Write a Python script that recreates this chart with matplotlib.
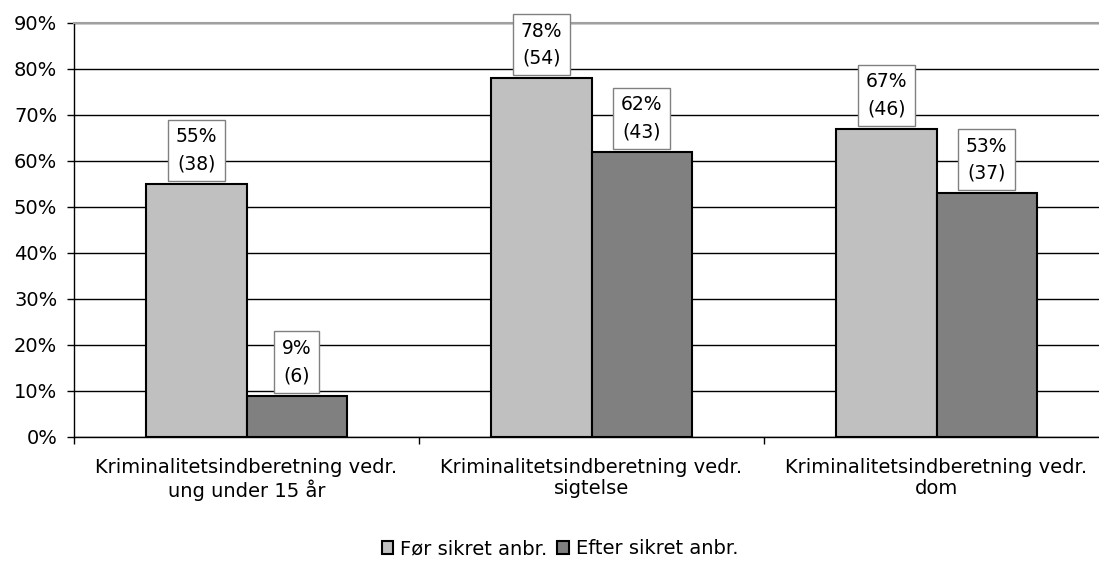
import matplotlib
matplotlib.use("Agg")
import matplotlib.pyplot as plt
import numpy as np

categories = ["Kriminalitetsindberetning vedr.\nung under 15 år",
              "Kriminalitetsindberetning vedr.\nsigtelse",
              "Kriminalitetsindberetning vedr.\ndom"]
series_names = ["Før sikret anbr.", "Efter sikret anbr."]
pct_before = [55, 78, 67]
pct_after = [9, 62, 53]
n_before = [38, 54, 46]
n_after = [6, 43, 37]
colors = ["#c0c0c0", "#808080"]
yticks = [0, 10, 20, 30, 40, 50, 60, 70, 80, 90]

plt.rcParams['font.family'] = ['DejaVu Sans']
fig = plt.figure(figsize=(10.99, 5.61), dpi=100)
W, H = 1099, 561
ax = fig.add_axes([74 / W, 1 - 437 / H, 1035 / W, (437 - 23) / H])

x = np.arange(len(categories))
bw = 0.29
for i, (vals, ns) in enumerate([(pct_before, n_before), (pct_after, n_after)]):
    off = (i - 0.5) * bw
    bars = ax.bar(x + off, vals, width=bw, color=colors[i], edgecolor='black',
                  linewidth=1.5, label=series_names[i], zorder=3)
    for b, v, n in zip(bars, vals, ns):
        ax.annotate(f"{v}%\n({n})", (b.get_x() + b.get_width() / 2, v),
                    xytext=(0, 7.5), textcoords='offset points', ha='center', va='bottom',
                    fontsize=13.5, linespacing=1.55, zorder=4,
                    bbox=dict(boxstyle='square,pad=0.4', facecolor='white',
                              edgecolor='#808080', linewidth=1))

ax.set_xlim(-0.5, 2.5)
ax.set_ylim(0, 90)
ax.set_yticks(yticks)
ax.set_yticklabels([f"{t}%" for t in yticks], fontsize=14)
ax.yaxis.grid(True, color='black', linewidth=1, zorder=0)
ax.set_axisbelow(True)

ax.set_xticks(x)
ax.set_xticklabels(categories, fontsize=14, linespacing=1.15)
ax.tick_params(axis='x', which='major', length=0, pad=15)
ax.set_xticks([-0.5, 0.5, 1.5, 2.5], minor=True)
ax.tick_params(axis='x', which='minor', length=5, width=1, color='black')
ax.tick_params(axis='y', length=5, width=1, color='black', pad=7)

for s in ['left', 'bottom']:
    ax.spines[s].set_color('black')
    ax.spines[s].set_linewidth(1)
ax.spines['top'].set_color('#a0a0a0')
ax.spines['top'].set_linewidth(1.5)
ax.spines['right'].set_visible(False)

handles, labels = ax.get_legend_handles_labels()
fig.legend(handles, labels, loc='center', bbox_to_anchor=(560 / W, 1 - 549 / H),
           ncol=2, frameon=False, fontsize=14, handlelength=0.6, handleheight=0.6,
           handletextpad=0.35, columnspacing=0.5)

fig.savefig("out.png", dpi=100)
